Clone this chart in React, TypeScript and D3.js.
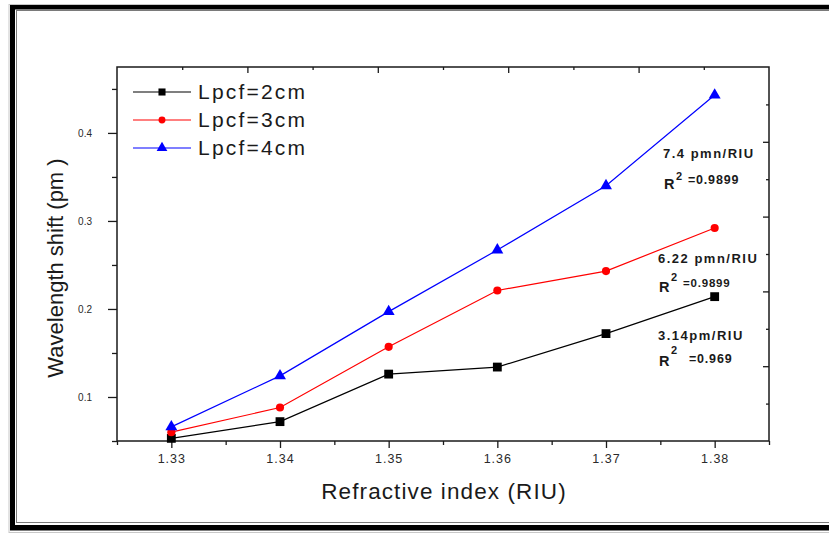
import React, { useEffect, useRef } from 'react';
import * as d3 from 'd3';

// values
const riu = [1.33, 1.34, 1.35, 1.36, 1.37, 1.38];
const shift2cm = [0.053, 0.072, 0.126, 0.134, 0.172, 0.214];
const shift3cm = [0.060, 0.088, 0.157, 0.221, 0.243, 0.292];
const shift4cm = [0.066, 0.124, 0.197, 0.267, 0.340, 0.443];

const seriesNames = ['Lpcf=2cm', 'Lpcf=3cm', 'Lpcf=4cm'];
const xMajor = [1.33, 1.34, 1.35, 1.36, 1.37, 1.38];
const xMinor = [1.325, 1.335, 1.345, 1.355, 1.365, 1.375, 1.385];
const yMajor = [0.1, 0.2, 0.3, 0.4];
const yMinor = [0.05, 0.15, 0.25, 0.35, 0.45];

const fitLabels = [
  { slope: '7.4 pmn/RIU', r2: '=0.9899' },
  { slope: '6.22 pmn/RIU', r2: '=0.9899' },
  { slope: '3.14pm/RIU', r2: '=0.969' },
];

const FONT = '"Liberation Sans", Arial, sans-serif';

const App = () => {
  const svgRef = useRef<SVGSVGElement>(null);

  useEffect(() => {
    const width = 829;
    const height = 534;
    const svg = d3.select(svgRef.current);
    svg.selectAll('*').remove();
    svg.attr('width', width).attr('height', height);

    svg.append('rect').attr('width', width).attr('height', height).attr('fill', '#fff');

    // picture frame
    const frame = svg.append('g');
    frame.append('rect').attr('x', 9).attr('y', 4.5).attr('width', 830).attr('height', 528)
      .attr('fill', 'none').attr('stroke', '#c8c8c8').attr('stroke-width', 1);
    frame.append('rect').attr('x', 10).attr('y', 5).attr('width', 830).attr('height', 4.5).attr('fill', '#000');
    frame.append('rect').attr('x', 10).attr('y', 5).attr('width', 5).attr('height', 525).attr('fill', '#000');
    frame.append('rect').attr('x', 10).attr('y', 525).attr('width', 830).attr('height', 5.5).attr('fill', '#000');
    frame.append('rect').attr('x', 16.5).attr('y', 10.5).attr('width', 830).attr('height', 512)
      .attr('fill', 'none').attr('stroke', '#7a7a7a').attr('stroke-width', 1);

    const left = 117, right = 769, top = 67, bottom = 441;

    const x = d3.scaleLinear().domain([1.325, 1.385]).range([left, right]);
    const y = d3.scaleLinear().domain([0.05, 0.4749]).range([bottom, top]);
    // mirror axes on top/right use their own even spacing
    const xTop = d3.scaleLinear().domain([0, 1]).range([left, right]);
    const yRight = d3.scaleLinear().domain([0, 1]).range([bottom, top]);
    const mirrorTicks = d3.range(1, 10).map(k => k / 10);

    const axisColor = '#1a1a1a';

    // bottom axis
    const gx = svg.append('g').attr('transform', `translate(0,${bottom})`);
    gx.call(d3.axisBottom(x).tickValues(xMinor).tickSize(4).tickFormat(() => ''));
    const gxMaj = svg.append('g').attr('transform', `translate(0,${bottom})`);
    gxMaj.call(d3.axisBottom(x).tickValues(xMajor).tickSize(7).tickPadding(6).tickFormat(d3.format('.2f')));
    gxMaj.selectAll('text')
      .style('font-family', FONT).style('font-size', '12.5px').style('letter-spacing', '1px')
      .attr('fill', '#2a2a2a');

    // left axis
    const gy = svg.append('g').attr('transform', `translate(${left},0)`);
    gy.call(d3.axisLeft(y).tickValues(yMinor).tickSize(5).tickFormat(() => ''));
    const gyMaj = svg.append('g').attr('transform', `translate(${left},0)`);
    gyMaj.call(d3.axisLeft(y).tickValues(yMajor).tickSize(9).tickPadding(16).tickFormat(d3.format('.1f')));
    gyMaj.selectAll('text')
      .style('font-family', FONT).style('font-size', '10px').attr('fill', '#2a2a2a');

    // top + right mirror axes, ticks inward
    svg.append('g').attr('transform', `translate(0,${top})`)
      .call(d3.axisBottom(xTop).tickValues(mirrorTicks).tickSizeInner(0).tickFormat(() => ''))
      .selectAll('line').attr('y2', (d: any) => (Math.round(d * 10) % 2 === 0 ? 6 : 3));
    svg.append('g').attr('transform', `translate(${right},0)`)
      .call(d3.axisLeft(yRight).tickValues(mirrorTicks).tickSizeInner(0).tickFormat(() => ''))
      .selectAll('line').attr('x2', (d: any) => (Math.round(d * 10) % 2 === 0 ? -6 : -3));

    svg.selectAll('.domain').remove();
    svg.selectAll('.tick line').attr('stroke', axisColor).attr('stroke-width', 1.3);

    svg.append('rect')
      .attr('x', left).attr('y', top).attr('width', right - left).attr('height', bottom - top)
      .attr('fill', 'none').attr('stroke', axisColor).attr('stroke-width', 1.5);

    // axis titles
    svg.append('text')
      .attr('x', (left + right) / 2 + 1).attr('y', 499)
      .attr('text-anchor', 'middle')
      .style('font-family', FONT).style('font-size', '22.5px').style('letter-spacing', '1.1px')
      .attr('fill', '#1a1a1a')
      .text('Refractive index (RIU)');

    svg.append('text')
      .attr('transform', `translate(63,268) rotate(-90)`)
      .attr('text-anchor', 'middle')
      .style('font-family', FONT).style('font-size', '22px')
      .attr('fill', '#1a1a1a')
      .text('Wavelength shift (pm )');

    // series
    const series = [
      { name: seriesNames[0], values: shift2cm, color: '#000000', symbol: d3.symbolSquare, size: 78, legendSize: 50 },
      { name: seriesNames[1], values: shift3cm, color: '#ff0000', symbol: d3.symbolCircle, size: 52, legendSize: 38 },
      { name: seriesNames[2], values: shift4cm, color: '#0000ff', symbol: d3.symbolTriangle, size: 62, legendSize: 50 },
    ];

    const line = d3.line<number>()
      .x((_, i) => x(riu[i]))
      .y(d => y(d));

    series.forEach(s => {
      svg.append('path')
        .attr('d', line(s.values))
        .attr('fill', 'none')
        .attr('stroke', s.color)
        .attr('stroke-width', 1.2);

      svg.selectAll(null)
        .data(s.values)
        .enter()
        .append('path')
        .attr('transform', (d, i) => `translate(${x(riu[i])},${y(d)})`)
        .attr('d', d3.symbol(s.symbol, s.size)())
        .attr('fill', s.color);
    });

    // legend
    const legend = svg.append('g');
    series.forEach((s, i) => {
      const ly = 92 + i * 28;
      legend.append('line')
        .attr('x1', 133).attr('x2', 191).attr('y1', ly).attr('y2', ly)
        .attr('stroke', s.color).attr('stroke-width', 1.2);
      legend.append('path')
        .attr('transform', `translate(162,${ly})`)
        .attr('d', d3.symbol(s.symbol, s.legendSize)())
        .attr('fill', s.color);
      legend.append('text')
        .attr('x', 198).attr('y', ly + 7)
        .style('font-family', FONT).style('font-size', '21px').style('letter-spacing', '2.2px')
        .attr('fill', '#1a1a1a')
        .text(s.name);
    });

    // slope / fit annotations
    const notePos = [
      { x: 663, y: 158, rY: 189, supY: 179.5, vX: 688, vY: 183.5 },
      { x: 658, y: 263, rY: 291.5, supY: 280.5, vX: 683, vY: 286.5 },
      { x: 658, y: 340, rY: 365.5, supY: 354, vX: 689, vY: 362.5 },
    ];
    const notes = svg.append('g')
      .style('font-family', FONT).style('font-weight', 'bold').attr('fill', '#1a1a1a');
    fitLabels.forEach((f, i) => {
      const p = notePos[i];
      notes.append('text').attr('x', p.x).attr('y', p.y)
        .style('font-size', '13px').style('letter-spacing', '1.5px').text(f.slope);
      notes.append('text').attr('x', p.x + 1).attr('y', p.rY)
        .style('font-size', '14.5px').text('R');
      notes.append('text').attr('x', p.x + 13).attr('y', p.supY)
        .style('font-size', '11px').text('2');
      notes.append('text').attr('x', p.vX).attr('y', p.vY)
        .style('font-size', i === 1 ? '11.5px' : '12.5px').style('letter-spacing', '0.8px').text(f.r2);
    });
  }, []);

  return (
    <div style={{ position: 'absolute', left: 0, top: 0 }}>
      <svg ref={svgRef} style={{ display: 'block' }}></svg>
    </div>
  );
};

export default App;
